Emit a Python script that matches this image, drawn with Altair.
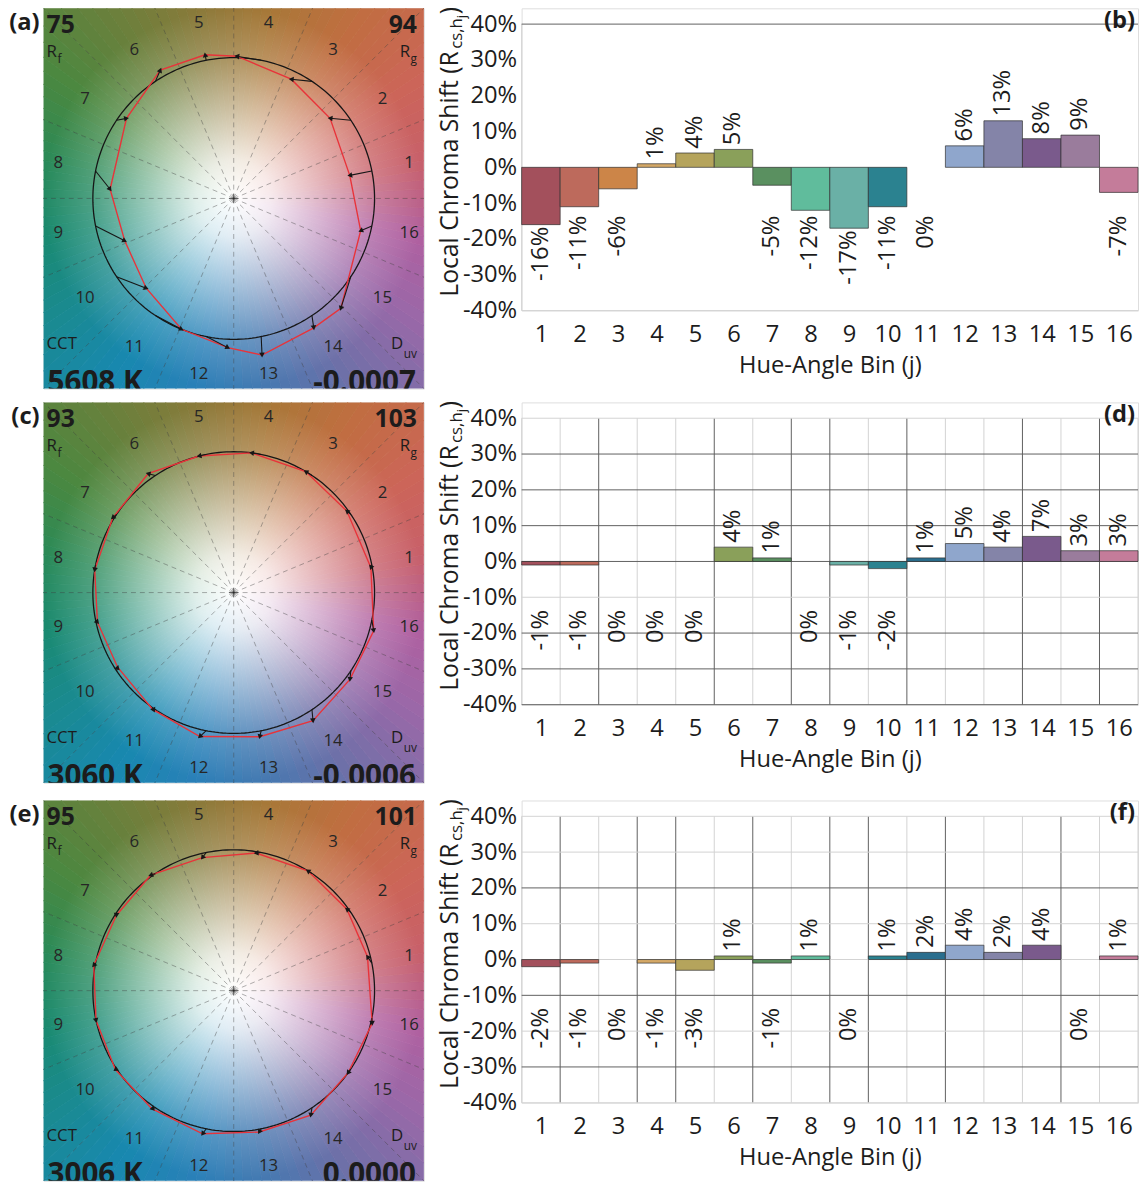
import math
import numpy as np
import pandas as pd
import altair as alt

FONT = "Open Sans"

# ---------------- data ----------------
BINS = list(range(1, 17))

RCS_A = [-16, -11, -6, 1, 4, 5, -5, -12, -17, -11, 0, 6, 13, 8, 9, -7]
RCS_C = [-1, -1, 0, 0, 0, 4, 1, 0, -1, -2, 1, 5, 4, 7, 3, 3]
RCS_E = [-2, -1, 0, -1, -3, 1, -1, 1, 0, 1, 2, 4, 2, 4, 0, 1]

# hue shift (degrees) of the test vertex of each bin in the vector graphic
HSHIFT_A = [0, 6, 8, 10, 0, -4, -3, 7, 10, 12, 12, 9, -1, -2, -12, -3]
HSHIFT_C = [-1, 2, 3, 4, 3, 2, 2, 2, 1, -1, -1, -2, -1, -2, -3, -4]
HSHIFT_E = [3, 2, 2, 2, 2, 2, 1, 1, 1, 0, -1, -1, -1, -2, -2, -2]

RF = [75, 93, 95]
RG = [94, 103, 101]
CCT = ["5608 K", "3060 K", "3006 K"]
DUV = ["-0.0007", "-0.0006", "0.0000"]
CVG_LETTERS = ["(a)", "(c)", "(e)"]
BAR_LETTERS = ["(b)", "(d)", "(f)"]

BAR_COLORS = ["#a3505c", "#bd6a5c", "#cc8548", "#d4a867", "#b5a45c", "#8aa05a",
              "#5a9060", "#60bc9c", "#6ab0a6", "#2b8290", "#2a6e8e", "#8fa6cc",
              "#8484a8", "#7a5a8c", "#9a7c9c", "#c47c9a"]
BG_COLORS = ["#c8606a", "#cc6558", "#c06e40", "#a87838", "#8a7a3a", "#6a803c",
             "#4a8840", "#2a8a58", "#1a8a70", "#1a8a90", "#1888b0", "#2a80b8",
             "#4878b0", "#7070a8", "#9a68a8", "#b060a0"]

Y_TICKS = [-40, -30, -20, -10, 0, 10, 20, 30, 40]
X_TITLE = "Hue-Angle Bin (j)"
YT_MAIN, YT_SUB, YT_SUB2, YT_END = "Local Chroma Shift (R", "cs,h", "j", ")"

BOUNDS = [k + 0.5 for k in range(17)]
DARK_V_D = [2.5, 5.5, 7.5, 8.5, 10.5, 13.5, 15.5]
DARK_V_F = [1.5, 3.5, 4.5, 6.5, 8.5, 9.5, 11.5, 14.5]
GRIDS = [
    dict(light_v=[0.5], dark_v=[], light_h=[-40], dark_h=[40]),
    dict(light_v=[b for b in BOUNDS if b not in DARK_V_D], dark_v=DARK_V_D,
         light_h=[40, -10], dark_h=[30, 20, 10, 0, -20, -30, -40]),
    dict(light_v=[b for b in BOUNDS if b not in DARK_V_F], dark_v=DARK_V_F,
         light_h=[40, 30, 10, 0, -20, -40], dark_h=[20, -10, -30]),
]

# ---------------- layout constants ----------------
SZ = 385
DOM = 1.35
BW = 624
PLOT_H = 290          # height of the -40%..40% range
OFF = 16              # free space above the 40% line (aligns with the square)
BH = PLOT_H + OFF
YMAX = 40 + OFF * 80.0 / PLOT_H
TXT = "#1c1c1c"


def hex2rgb(h):
    h = h.lstrip("#")
    return [int(h[i:i + 2], 16) for i in (0, 2, 4)]


def mix(a, b, f):
    return "#%02x%02x%02x" % tuple(int(round(a[i] + (b[i] - a[i]) * f)) for i in range(3))


def note(text, x, y, size, bold=False, align="left", baseline="alphabetic",
         clip=False, angle=None, color=TXT):
    kw = dict(text=text, fontSize=size, fontWeight="bold" if bold else "normal",
              align=align, baseline=baseline, font=FONT, color=color, clip=clip)
    if angle is not None:
        kw["angle"] = angle
    return alt.Chart(pd.DataFrame({"d": [0]})).mark_text(**kw).encode(
        x=alt.value(x), y=alt.value(y))


def cvg_panel(i, rcs, shift):
    sc = alt.Scale(domain=[-DOM, DOM], nice=False, zero=False)
    layers = []

    # hue background as many thin wedges
    wrows = []
    nsub = 8
    for k in range(16):
        c0 = hex2rgb(BG_COLORS[k])
        c1 = hex2rgb(BG_COLORS[(k + 1) % 16])
        base = (k + 0.5) * 22.5
        for s in range(nsub):
            p0 = base + s * 22.5 / nsub
            p1 = p0 + 22.5 / nsub
            t0 = (90 - p1) % 360
            t1 = t0 + (p1 - p0)
            wrows.append(dict(t0=math.radians(t0), t1=math.radians(t1),
                              col=mix(c0, c1, (s + 0.5) / nsub)))
    layers.append(alt.Chart(pd.DataFrame(wrows)).mark_arc(radius=430, clip=True, strokeWidth=0.8).encode(
        theta=alt.Theta("t0:Q", scale=None, stack=None), theta2=alt.Theta2("t1"),
        color=alt.Color("col:N", scale=None), stroke=alt.Stroke("col:N", scale=None)))

    grad = {"gradient": "radial", "x1": 0.5, "y1": 0.5, "x2": 0.5, "y2": 0.5, "r1": 0, "r2": 0.5,
            "stops": [{"offset": 0, "color": "rgba(255,255,255,1)"},
                      {"offset": 0.2, "color": "rgba(255,255,255,0.86)"},
                      {"offset": 0.45, "color": "rgba(255,255,255,0.55)"},
                      {"offset": 0.74, "color": "rgba(255,255,255,0.2)"},
                      {"offset": 1, "color": "rgba(255,255,255,0)"}]}
    layers.append(alt.Chart(pd.DataFrame({"d": [0]})).mark_rect(color=grad).encode(
        x=alt.value(0), x2=alt.value(SZ), y=alt.value(0), y2=alt.value(SZ)))

    # dashed radial lines at bin boundaries
    ang = np.radians(np.arange(16) * 22.5)
    rl = pd.DataFrame({"x0": 0.0, "y0": 0.0, "x1": 2.2 * np.cos(ang), "y1": 2.2 * np.sin(ang)})
    layers.append(alt.Chart(rl).mark_rule(color="#3a3a3a", strokeWidth=0.8, strokeDash=[5, 4],
                                          opacity=0.5, clip=True).encode(
        x=alt.X("x0:Q", scale=sc, axis=None), y=alt.Y("y0:Q", scale=sc, axis=None),
        x2="x1", y2="y1"))

    layers.append(alt.Chart(pd.DataFrame({"x": [0.0], "y": [0.0]})).mark_point(
        shape="M-1,0L1,0M0,-1L0,1", size=90, filled=False, color="#222", strokeWidth=0.9).encode(
        x=alt.X("x:Q", scale=sc, axis=None), y=alt.Y("y:Q", scale=sc, axis=None)))

    # reference circle
    t = np.linspace(0, 2 * np.pi, 241)
    circ = pd.DataFrame({"x": np.cos(t), "y": np.sin(t), "o": np.arange(241)})
    layers.append(alt.Chart(circ).mark_line(color="#161616", strokeWidth=1.3).encode(
        x=alt.X("x:Q", scale=sc, axis=None), y=alt.Y("y:Q", scale=sc, axis=None), order="o:Q"))

    # test polygon and arrows
    cen = np.radians((np.array(BINS) - 0.5) * 22.5)
    tang = cen + np.radians(np.array(shift, dtype=float))
    rr = 1 + np.array(rcs, dtype=float) / 100.0
    tx, ty = rr * np.cos(tang), rr * np.sin(tang)
    sx, sy = np.cos(cen), np.sin(cen)
    poly = pd.DataFrame({"x": list(tx) + [tx[0]], "y": list(ty) + [ty[0]], "o": list(range(17))})
    layers.append(alt.Chart(poly).mark_line(color="#e8333a", strokeWidth=1.4).encode(
        x=alt.X("x:Q", scale=sc, axis=None), y=alt.Y("y:Q", scale=sc, axis=None), order="o:Q"))

    arr = pd.DataFrame({"sx": sx, "sy": sy, "tx": tx, "ty": ty,
                        "ang": np.degrees(np.arctan2(tx - sx, ty - sy)) % 360})
    layers.append(alt.Chart(arr).mark_rule(color="#161616", strokeWidth=1.1).encode(
        x=alt.X("sx:Q", scale=sc, axis=None), y=alt.Y("sy:Q", scale=sc, axis=None),
        x2="tx", y2="ty"))
    layers.append(alt.Chart(arr).mark_point(shape="triangle-up", filled=True, size=32,
                                            color="#161616", opacity=1).encode(
        x=alt.X("tx:Q", scale=sc, axis=None), y=alt.Y("ty:Q", scale=sc, axis=None),
        angle=alt.Angle("ang:Q", scale=None)))

    # hue bin numbers
    hl = pd.DataFrame({"x": 1.27 * sx, "y": 1.27 * sy, "t": [str(b) for b in BINS]})
    layers.append(alt.Chart(hl).mark_text(fontSize=17, color="#262626", font=FONT).encode(
        x=alt.X("x:Q", scale=sc, axis=None), y=alt.Y("y:Q", scale=sc, axis=None), text="t:N"))

    # corner annotations
    layers += [
        note(str(RF[i]), 3, 25, 25, bold=True),
        note(str(RG[i]), 378, 25, 25, bold=True, align="right"),
        note("R", 3, 49, 17),
        note("f", 14, 55, 12),
        note("g", 378, 55, 12, align="right"),
        note("R", 371, 49, 17, align="right"),
        note("CCT", 3, 345, 17),
        note("uv", 378, 354, 12, align="right"),
        note("D", 364, 345, 17, align="right"),
        note(CCT[i], 4, 388, 30, bold=True, clip=True),
        note(DUV[i], 377, 388, 30, bold=True, align="right", clip=True),
        note(CVG_LETTERS[i], -4, 15, 24, bold=True, align="right", baseline="middle"),
    ]
    return alt.layer(*layers).properties(width=SZ, height=SZ)


def bar_panel(i, rcs, grid):
    xsc = alt.Scale(domain=[0.5, 16.5], nice=False, zero=False)
    ysc = alt.Scale(domain=[-40, YMAX], nice=False, zero=False)
    x_axis = alt.Axis(values=BINS, format="d", title=X_TITLE, titleFontSize=24,
                      titleFontWeight="normal", titleColor=TXT, titlePadding=8,
                      labelFontSize=24, labelColor=TXT, labelPadding=12, labelAngle=0,
                      labelOverlap=False, labelFlush=False, domain=False, ticks=False, grid=False)
    y_axis = alt.Axis(values=Y_TICKS, labelExpr="datum.value + '%'", title=None,
                      labelFontSize=24, labelColor=TXT, labelPadding=5, labelOverlap=False,
                      labelFlush=False, domain=False, ticks=False, grid=False)

    def X(f):
        return alt.X(f, scale=xsc, axis=x_axis)

    def Y(f):
        return alt.Y(f, scale=ysc, axis=y_axis)

    df = pd.DataFrame({"bin": BINS, "v": rcs, "col": BAR_COLORS})
    df["x0"] = df["bin"] - 0.5
    df["x1"] = df["bin"] + 0.5
    df["base"] = 0
    df["lab"] = [f"{v}%" for v in rcs]
    df["ly"] = [v + 1.2 if v > 0 else min(v - 0.6, -13.5) for v in rcs]

    layers = []
    for key, col in (("light_v", "#d2d2d2"), ("dark_v", "#5e5e5e")):
        if grid[key]:
            g = pd.DataFrame({"x": grid[key]})
            g["ya"] = -40
            g["yb"] = 40
            layers.append(alt.Chart(g).mark_rule(color=col, strokeWidth=1).encode(
                x=X("x:Q"), y=Y("ya:Q"), y2="yb"))
    for key, col in (("light_h", "#d2d2d2"), ("dark_h", "#5e5e5e")):
        if grid[key]:
            layers.append(alt.Chart(pd.DataFrame({"y": grid[key]})).mark_rule(
                color=col, strokeWidth=1).encode(y=Y("y:Q")))

    layers.append(alt.Chart(df[df["v"] != 0]).mark_rect(
        stroke="#303030", strokeWidth=1, strokeOpacity=0.7).encode(
        x=X("x0:Q"), x2="x1", y=Y("v:Q"), y2="base",
        color=alt.Color("col:N", scale=None)))

    for sub, al in ((df[df["v"] > 0], "left"), (df[df["v"] <= 0], "right")):
        layers.append(alt.Chart(sub).mark_text(angle=270, align=al, baseline="middle",
                                               fontSize=24, font=FONT, color=TXT).encode(
            x=X("bin:Q"), y=Y("ly:Q"), text="lab:N"))

    # y title with subscripts
    yb = 292
    w1, w2, w3 = 251, 31, 4
    layers += [
        note(YT_MAIN, -72, yb, 25, angle=270, baseline="middle"),
        note(YT_SUB, -65, yb - w1, 17, angle=270, baseline="middle"),
        note(YT_SUB2, -60, yb - w1 - w2, 13, angle=270, baseline="middle"),
        note(YT_END, -72, yb - w1 - w2 - w3, 25, angle=270, baseline="middle"),
        note(BAR_LETTERS[i], BW - 3, 13, 24, bold=True, align="right", baseline="middle"),
    ]
    return alt.layer(*layers).properties(width=BW, height=BH)


RCS = [RCS_A, RCS_C, RCS_E]
HS = [HSHIFT_A, HSHIFT_C, HSHIFT_E]
rows = [alt.hconcat(cvg_panel(i, RCS[i], HS[i]), bar_panel(i, RCS[i], GRIDS[i]), spacing=13)
        for i in range(3)]
lower = alt.vconcat(rows[1], rows[2], spacing=15)
chart = alt.vconcat(rows[0], lower, spacing=11).properties(
    padding={"top": -9, "left": 0, "right": 0, "bottom": 0}).configure_view(
    stroke=None).configure(font=FONT)

chart.save("out.html", embed_options={"renderer": "svg", "actions": False})
